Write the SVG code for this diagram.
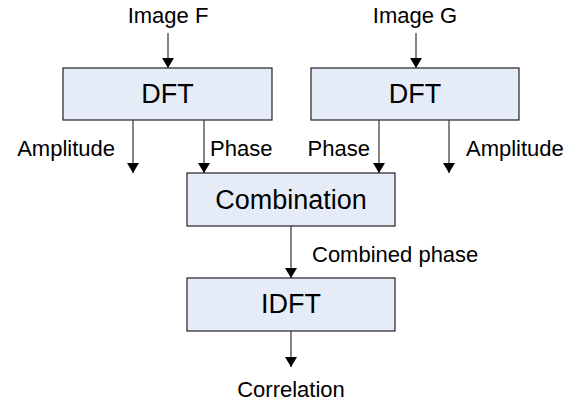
<svg xmlns="http://www.w3.org/2000/svg" width="579" height="408" viewBox="0 0 579 408">
  <style>
    .box { fill: #e6ecf7; stroke: #222; stroke-width: 1.2; }
    .boxlabel { font-family: "Liberation Sans", "Noto Sans CJK JP", sans-serif; font-size: 27px; fill: #000; text-anchor: middle; }
    .label { font-family: "Liberation Sans", "Noto Sans CJK JP", sans-serif; font-size: 22px; fill: #000; }
    .wire { stroke: #333; stroke-width: 1.2; fill: none; marker-end: url(#head); }
  </style>
  <defs>
    <marker id="head" viewBox="0 0 10 12" refX="10" refY="6" markerWidth="10" markerHeight="12" markerUnits="userSpaceOnUse" orient="auto">
      <path d="M0,0 L10,6 L0,12 Z" fill="#000"/>
    </marker>
  </defs>

  <!-- input labels -->
  <text class="label" x="168" y="23" text-anchor="middle">Image F</text>
  <text class="label" x="415" y="23" text-anchor="middle">Image G</text>

  <g id="dft-f">
    <rect class="box" x="63" y="68" width="209" height="52"/>
    <text class="boxlabel" x="167.5" y="103">DFT</text>
  </g>
  <g id="dft-g">
    <rect class="box" x="311" y="68" width="208" height="52"/>
    <text class="boxlabel" x="415" y="103">DFT</text>
  </g>
  <g id="combination">
    <rect class="box" x="187" y="173" width="208" height="53"/>
    <text class="boxlabel" x="291" y="209">Combination</text>
  </g>
  <g id="idft">
    <rect class="box" x="187" y="278" width="208" height="53"/>
    <text class="boxlabel" x="291" y="313">IDFT</text>
  </g>

  <g id="connectors">
    <line class="wire" x1="168" y1="33" x2="168" y2="68"/>
    <line class="wire" x1="416" y1="33" x2="416" y2="68"/>
    <line class="wire" x1="133" y1="120" x2="133" y2="173"/>
    <line class="wire" x1="204" y1="120" x2="204" y2="173"/>
    <line class="wire" x1="379" y1="120" x2="379" y2="173"/>
    <line class="wire" x1="449" y1="120" x2="449" y2="173"/>
    <line class="wire" x1="291" y1="226" x2="291" y2="278"/>
    <line class="wire" x1="291" y1="331" x2="291" y2="367"/>
  </g>

  <!-- connector labels -->
  <text class="label" x="115" y="156" text-anchor="end">Amplitude</text>
  <text class="label" x="210" y="156">Phase</text>
  <text class="label" x="370" y="156" text-anchor="end">Phase</text>
  <text class="label" x="466" y="156">Amplitude</text>
  <text class="label" x="312" y="262">Combined phase</text>
  <text class="label" x="291" y="397" text-anchor="middle">Correlation</text>
</svg>
